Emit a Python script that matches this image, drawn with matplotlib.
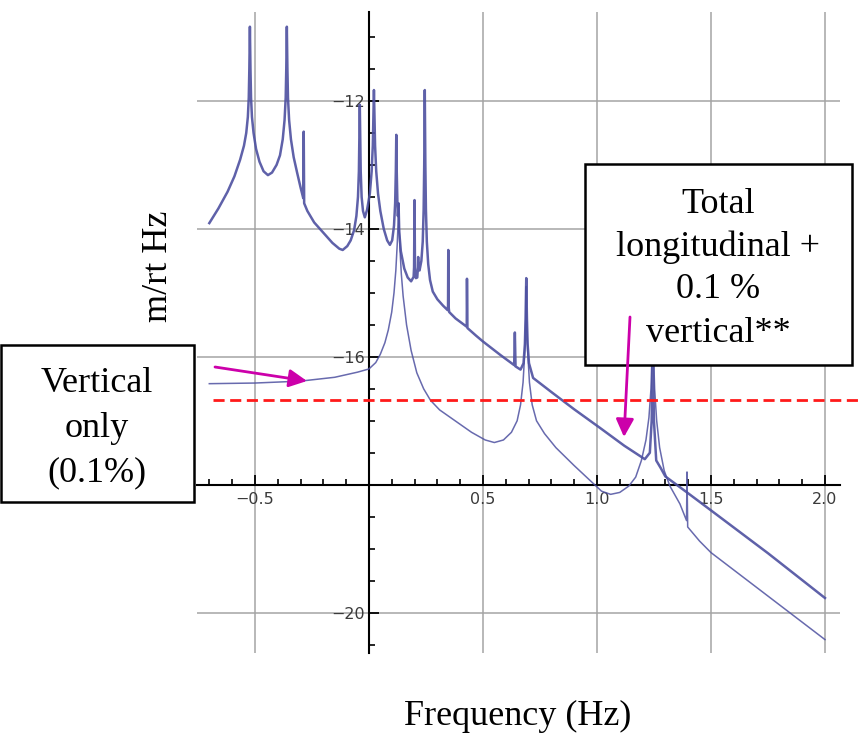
import matplotlib
matplotlib.use('Agg')
import matplotlib.pyplot as plt
from matplotlib.patches import Rectangle, FancyArrowPatch, ArrowStyle
from matplotlib.ticker import FixedLocator, FixedFormatter

# ---------------- data (log10 axes) ----------------
total_x = [-0.70, -0.66, -0.62, -0.59, -0.565, -0.548, -0.538, -0.531, -0.527, -0.5245,
           -0.523, -0.522, -0.521, -0.5195, -0.517, -0.513, -0.506, -0.495, -0.48, -0.462,
           -0.443, -0.425, -0.405, -0.39, -0.378, -0.370, -0.365, -0.3625, -0.361, -0.360,
           -0.359, -0.3575, -0.355, -0.35, -0.342, -0.33, -0.315, -0.30, -0.288, -0.286,
           -0.284, -0.27, -0.24, -0.20, -0.16, -0.13, -0.115, -0.095, -0.08, -0.065,
           -0.055, -0.048, -0.044, -0.042, -0.040, -0.038, -0.036, -0.032, -0.026, -0.018,
           -0.008, 0.004, 0.012, 0.017, 0.020, 0.022, 0.024, 0.027, 0.032, 0.040,
           0.050, 0.065, 0.08, 0.092, 0.102, 0.110, 0.115, 0.118, 0.120, 0.122,
           0.125, 0.127, 0.130, 0.133, 0.14, 0.155, 0.17, 0.185, 0.196, 0.198,
           0.200, 0.202, 0.206, 0.212, 0.215, 0.216, 0.217, 0.222, 0.230, 0.236,
           0.240, 0.2425, 0.244, 0.245, 0.246, 0.2475, 0.250, 0.254, 0.260, 0.268,
           0.28, 0.30, 0.325, 0.345, 0.347, 0.348, 0.349, 0.352, 0.38, 0.410,
           0.429, 0.430, 0.432, 0.47, 0.50, 0.576, 0.637, 0.640, 0.643, 0.665,
           0.678, 0.684, 0.687, 0.689, 0.690, 0.691, 0.693, 0.696, 0.702, 0.72,
           0.80, 0.90, 1.013, 1.12, 1.21, 1.232, 1.240, 1.243, 1.245,
           1.247, 1.250, 1.26, 1.28, 1.30, 1.395, 1.5, 1.75, 2.0]
total_y = [-13.91, -13.68, -13.42, -13.18, -12.92, -12.7, -12.5, -12.25, -11.95, -11.5,
           -11.1, -10.84, -11.1, -11.5, -11.95, -12.25, -12.5, -12.75, -12.95, -13.1,
           -13.16, -13.12, -13.0, -12.85, -12.6, -12.3, -11.95, -11.5, -11.1, -10.84,
           -11.1, -11.5, -11.95, -12.3, -12.6, -12.88, -13.12, -13.35, -13.52, -12.48,
           -13.6, -13.72, -13.9, -14.06, -14.22, -14.31, -14.33, -14.27, -14.18, -14.02,
           -13.8, -13.5, -13.1, -12.6, -12.06, -12.6, -13.1, -13.5, -13.72, -13.82,
           -13.7, -13.45, -13.1, -12.7, -12.2, -11.83, -12.2, -12.7, -13.1, -13.45,
           -13.72, -14.0, -14.18, -14.25, -14.18, -13.95, -13.6, -13.1, -12.53, -13.1,
           -13.6, -13.8, -13.6, -14.05, -14.35, -14.62, -14.76, -14.82, -14.75, -14.6,
           -13.55, -14.6, -14.77, -14.76, -14.6, -14.44, -14.6, -14.65, -14.5, -14.2,
           -13.7, -13.0, -12.4, -11.83, -12.4, -13.0, -13.7, -14.2, -14.55, -14.8,
           -14.98, -15.1, -15.2, -15.27, -15.2, -14.33, -15.2, -15.3, -15.4, -15.48,
           -15.53, -14.78, -15.55, -15.67, -15.76, -15.97, -16.13, -15.62, -16.15, -16.2,
           -16.1, -15.8, -15.4, -15.0, -14.77, -15.0, -15.4, -15.8, -16.1, -16.33,
           -16.55, -16.82, -17.11, -17.39, -17.6, -17.5, -17.0, -16.3, -14.5,
           -16.3, -17.0, -17.62, -17.74, -17.87, -18.12, -18.40, -19.07, -19.77]

vert_x = [-0.70, -0.5, -0.3, -0.15, -0.05, 0.0, 0.03, 0.05, 0.07, 0.085,
          0.10, 0.11, 0.118, 0.124, 0.128, 0.130, 0.132, 0.136, 0.142, 0.15,
          0.165, 0.185, 0.21, 0.24, 0.27, 0.31, 0.37, 0.45, 0.51, 0.55,
          0.59, 0.625, 0.65, 0.665, 0.676, 0.684, 0.688, 0.690, 0.692, 0.696,
          0.704, 0.716, 0.735, 0.77, 0.82, 0.90, 0.96, 1.02, 1.06, 1.10,
          1.14, 1.17, 1.195, 1.215, 1.228, 1.237, 1.242, 1.245, 1.248, 1.253,
          1.262, 1.275, 1.295, 1.32, 1.364, 1.393, 1.395, 1.398, 1.45, 1.5,
          1.75, 2.0]
vert_y = [-16.42, -16.41, -16.38, -16.32, -16.24, -16.19, -16.09, -15.96, -15.78, -15.58,
          -15.3, -15.0, -14.65, -14.25, -13.9, -13.6, -13.9, -14.3, -14.7, -15.05,
          -15.5, -15.9, -16.25, -16.5, -16.68, -16.83, -16.98, -17.18, -17.3, -17.34,
          -17.3, -17.18, -17.0, -16.75, -16.4, -15.9, -15.4, -14.9, -15.4, -15.9,
          -16.4, -16.75, -17.0, -17.2, -17.42, -17.7, -17.9, -18.1, -18.15, -18.12,
          -18.02, -17.88, -17.62, -17.3, -16.95, -16.5, -15.9, -14.5, -15.9, -16.5,
          -17.0, -17.42, -17.78, -18.02, -18.3, -18.56, -17.8, -18.66, -18.88, -19.06,
          -19.74, -20.42]

threshold_level = -16.68

x_major = [-0.5, 0.5, 1.0, 1.5, 2.0]
x_major_labels = ['\u22120.5', '0.5', '1.0', '1.5', '2.0']
x_minor = [-0.7, -0.6, -0.4, -0.3, -0.2, -0.1, 0.1, 0.2, 0.3, 0.4, 0.6, 0.7, 0.8, 0.9,
           1.1, 1.2, 1.3, 1.4, 1.6, 1.7, 1.8, 1.9]
y_major = [-20, -16, -14, -12]
y_major_labels = ['\u221220', '\u221216', '\u221214', '\u221212']
y_minor = [-20.5, -19.5, -19, -18.5, -17.5, -17, -16.5, -15.5, -15, -14.5, -13.5, -13,
           -12.5, -11.5, -11]

box_right_lines = ['Total', 'longitudinal +', '0.1 %', 'vertical**']
box_left_lines = ['Vertical', 'only', '(0.1%)']
y_label = 'm/rt Hz'
x_label = 'Frequency (Hz)'

# ---------------- figure ----------------
W, H = 863, 741
fig = plt.figure(figsize=(W / 100, H / 100), dpi=100)
fig.patch.set_facecolor('white')


def fx(x):
    return x / W


def fy(y):
    return 1 - y / H


ax = fig.add_axes([fx(197), fy(653), fx(840) - fx(197), fy(12) - fy(653)])
ax.set_xlim(-0.754, 2.066)
ax.set_ylim(-20.63, -10.61)
ax.patch.set_alpha(0)

for s in ['top', 'right']:
    ax.spines[s].set_visible(False)
ax.spines['left'].set_position(('data', 0))
ax.spines['bottom'].set_position(('data', -18))
for s in ['left', 'bottom']:
    ax.spines[s].set_linewidth(1.5)
    ax.spines[s].set_color('black')
    ax.spines[s].set_zorder(2.5)

ax.xaxis.set_major_locator(FixedLocator(x_major))
ax.xaxis.set_major_formatter(FixedFormatter(x_major_labels))
ax.xaxis.set_minor_locator(FixedLocator(x_minor))
ax.yaxis.set_major_locator(FixedLocator(y_major))
ax.yaxis.set_major_formatter(FixedFormatter(y_major_labels))
ax.yaxis.set_minor_locator(FixedLocator(y_minor))

ax.tick_params(which='major', direction='in', length=7, width=1.3, color='black',
               labelsize=11.5, labelcolor='#3a3a3a')
ax.tick_params(which='minor', direction='in', length=4, width=1.2, color='black')
ax.tick_params(axis='x', which='major', pad=5)
ax.tick_params(axis='y', which='major', pad=3)

ax.set_axisbelow(True)
ax.grid(True, which='major', color='#a4a4a4', lw=1.1)

line_color = '#4d50a0'
ax.plot(vert_x, vert_y, color=line_color, lw=1.1, alpha=0.85, zorder=3)
ax.plot(total_x, total_y, color=line_color, lw=1.8, alpha=0.9, zorder=3)

ax.plot([-0.684, 2.167], [threshold_level, threshold_level], color='#ff1a1a', lw=2.0,
        dashes=(4.0, 2.0), clip_on=False, zorder=4)

# ---------------- annotation boxes ----------------
fig.patches.append(Rectangle((fx(585), fy(365)), fx(852) - fx(585), fy(164) - fy(365),
                             transform=fig.transFigure, facecolor='white',
                             edgecolor='black', lw=1.8, zorder=5))
fig.patches.append(Rectangle((fx(1), fy(502)), fx(194) - fx(1), fy(345) - fy(502),
                             transform=fig.transFigure, facecolor='white',
                             edgecolor='black', lw=1.8, zorder=5))

serif = ['Liberation Serif', 'DejaVu Serif']
for txt, yb in zip(box_right_lines, [213, 256, 298, 342]):
    fig.text(fx(718), fy(yb), txt, ha='center', va='baseline', fontsize=26,
             family=serif, zorder=6)
for txt, yb in zip(box_left_lines, [392, 437, 481]):
    fig.text(fx(97), fy(yb), txt, ha='center', va='baseline', fontsize=26,
             family=serif, zorder=6)

fig.text(fx(158), fy(266), y_label, rotation=90, ha='center', va='center',
         fontsize=26, family=serif)
fig.text(fx(518), fy(716), x_label, ha='center', va='center', fontsize=26, family=serif)

style = ArrowStyle('-|>', head_length=0.6, head_width=0.3)
for (xa, ya), (xb, yb) in [((215, 367), (307, 381)), ((630, 317), (624, 437))]:
    arr = FancyArrowPatch((fx(xa), fy(ya)), (fx(xb), fy(yb)), transform=fig.transFigure,
                          arrowstyle=style, mutation_scale=18, color='#cc00aa', lw=2.0,
                          shrinkA=0, shrinkB=0, zorder=7)
    fig.patches.append(arr)

fig.savefig('out.png', dpi=100)
